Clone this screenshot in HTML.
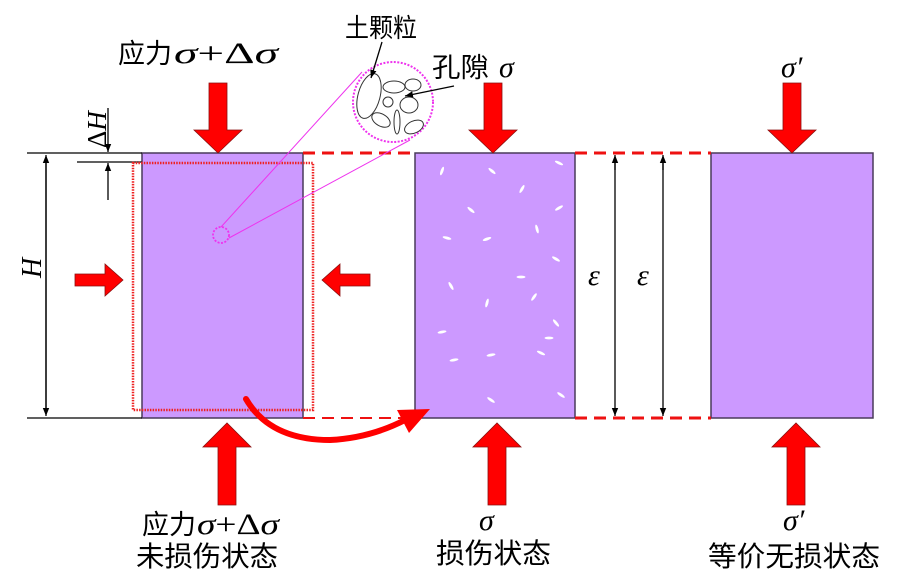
<!DOCTYPE html>
<html><head><meta charset="utf-8"><style>
html,body{margin:0;padding:0;background:#fff;}
svg{display:block;}
text{font-family:"Liberation Serif","Noto Serif CJK SC",serif;fill:#000;}
.cn{font-family:"Liberation Sans","Noto Sans CJK SC",sans-serif;}
</style></head><body>
<svg width="911" height="582" viewBox="0 0 911 582" xmlns="http://www.w3.org/2000/svg">
<defs>
<marker id="ah" viewBox="0 0 10 10" refX="10" refY="5" markerWidth="8" markerHeight="10" markerUnits="userSpaceOnUse" orient="auto"><path d="M0,1 L10,5 L0,9 Z" fill="#000"/></marker>
</defs>
<rect x="142" y="153" width="161" height="265" fill="#cc99ff" stroke="#4a3a5a" stroke-width="1.5"/>
<rect x="415" y="153" width="160" height="265" fill="#cc99ff" stroke="#4a3a5a" stroke-width="1.5"/>
<rect x="711" y="153" width="162" height="265" fill="#cc99ff" stroke="#4a3a5a" stroke-width="1.5"/>
<g fill="#fff">
<ellipse cx="442" cy="171" rx="4.5" ry="1.4" transform="rotate(-70 442 171)"/>
<ellipse cx="492" cy="171" rx="4.5" ry="1.4" transform="rotate(40 492 171)"/>
<ellipse cx="559" cy="163" rx="4.5" ry="1.4" transform="rotate(25 559 163)"/>
<ellipse cx="522" cy="189" rx="4.5" ry="1.4" transform="rotate(-60 522 189)"/>
<ellipse cx="471" cy="210" rx="4.5" ry="1.4" transform="rotate(40 471 210)"/>
<ellipse cx="559" cy="208" rx="4.5" ry="1.4" transform="rotate(-30 559 208)"/>
<ellipse cx="537" cy="229" rx="4.5" ry="1.4" transform="rotate(75 537 229)"/>
<ellipse cx="447" cy="238" rx="4.5" ry="1.4" transform="rotate(15 447 238)"/>
<ellipse cx="487" cy="239" rx="4.5" ry="1.4" transform="rotate(-20 487 239)"/>
<ellipse cx="556" cy="259" rx="4.5" ry="1.4" transform="rotate(30 556 259)"/>
<ellipse cx="521" cy="277" rx="4.5" ry="1.4"/>
<ellipse cx="451" cy="286" rx="4.5" ry="1.4" transform="rotate(60 451 286)"/>
<ellipse cx="534" cy="297" rx="4.5" ry="1.4" transform="rotate(-55 534 297)"/>
<ellipse cx="487" cy="303" rx="4.5" ry="1.4" transform="rotate(-75 487 303)"/>
<ellipse cx="556" cy="323" rx="4.5" ry="1.4" transform="rotate(50 556 323)"/>
<ellipse cx="442" cy="332" rx="4.5" ry="1.4" transform="rotate(-10 442 332)"/>
<ellipse cx="549" cy="338" rx="4.5" ry="1.4"/>
<ellipse cx="491" cy="355" rx="4.5" ry="1.4" transform="rotate(-10 491 355)"/>
<ellipse cx="454" cy="360" rx="4.5" ry="1.4" transform="rotate(-10 454 360)"/>
<ellipse cx="541" cy="353" rx="4.5" ry="1.4" transform="rotate(25 541 353)"/>
<ellipse cx="491" cy="400" rx="4.5" ry="1.4" transform="rotate(35 491 400)"/>
<ellipse cx="561" cy="395" rx="4.5" ry="1.4" transform="rotate(35 561 395)"/>
</g>
<g stroke="#000" stroke-width="1.3" fill="none">
<line x1="27" y1="153" x2="142" y2="153"/>
<line x1="27" y1="418" x2="142" y2="418"/>
<line x1="77" y1="162" x2="142" y2="162"/>
<line x1="46" y1="410" x2="46" y2="155" marker-end="url(#ah)"/>
<line x1="46" y1="160" x2="46" y2="416" marker-end="url(#ah)"/>
<line x1="108" y1="108" x2="108" y2="152" marker-end="url(#ah)"/>
<line x1="108" y1="200" x2="108" y2="163" marker-end="url(#ah)"/>
<line x1="615" y1="170" x2="615" y2="155" marker-end="url(#ah)"/>
<line x1="615" y1="160" x2="615" y2="416" marker-end="url(#ah)"/>
<line x1="663" y1="170" x2="663" y2="155" marker-end="url(#ah)"/>
<line x1="663" y1="160" x2="663" y2="416" marker-end="url(#ah)"/>
</g>
<g stroke="#ee1111" stroke-width="3" stroke-dasharray="12,7" fill="none">
<line x1="303" y1="153" x2="415" y2="153"/>
<line x1="575" y1="153" x2="711" y2="153"/>
<line x1="575" y1="418" x2="711" y2="418"/>
</g>
<line x1="303" y1="418" x2="415" y2="418" stroke="#ee1111" stroke-width="2" stroke-dasharray="12,7"/>
<rect x="133" y="163" width="180" height="247" fill="none" stroke="#ee2222" stroke-width="2.5" stroke-dasharray="1.5,1.2"/>
<g stroke="#ee33ee" fill="none">
<line x1="221" y1="227" x2="362" y2="72" stroke-width="1"/>
<line x1="229" y1="238" x2="410" y2="140" stroke-width="1"/>
<circle cx="221" cy="235" r="8" stroke-width="1.8" stroke-dasharray="2,1.5"/>
<circle cx="393" cy="102" r="40" stroke-width="2" stroke-dasharray="2,1.5" fill="#fff"/>
</g>
<g stroke="#333" stroke-width="1" fill="none">
<ellipse cx="369" cy="96" rx="11" ry="23" transform="rotate(15 369 96)"/>
<ellipse cx="394" cy="87" rx="11" ry="6"/>
<ellipse cx="413" cy="85" rx="8" ry="6"/>
<circle cx="388" cy="102" r="5"/>
<ellipse cx="409" cy="105" rx="9" ry="8"/>
<ellipse cx="381" cy="120" rx="10" ry="6" transform="rotate(30 381 120)"/>
<ellipse cx="397" cy="122" rx="3" ry="12"/>
<ellipse cx="414" cy="127" rx="10" ry="6" transform="rotate(-25 414 127)"/>
</g>
<line x1="382" y1="42" x2="371" y2="78" stroke="#000" stroke-width="1.3" marker-end="url(#ah)"/>
<line x1="454" y1="86" x2="405" y2="96" stroke="#000" stroke-width="1.3" marker-end="url(#ah)"/>
<g fill="#ff0000" stroke="#8a1010" stroke-width="0.8">
<path d="M209,83 H227 V130 H242 L218,153 L194,130 H209 Z"/>
<path d="M484,83 H502 V130 H517 L493,153 L469,130 H484 Z"/>
<path d="M783,83 H801 V130 H816 L792,153 L768,130 H783 Z"/>
<path d="M218,505 H236 V447 H251 L227,423 L203,447 H218 Z"/>
<path d="M488,505 H506 V447 H521 L497,423 L473,447 H488 Z"/>
<path d="M787,505 H805 V447 H820 L796,423 L772,447 H787 Z"/>
<path d="M75,274 H105 V264 L123,280 L105,296 V286 H75 Z"/>
<path d="M370,274 H340 V264 L322,280 L340,296 V286 H370 Z"/>
</g>
<path d="M246,399 Q270,440 330,440 Q370,438 405,420" stroke="#ff0000" stroke-width="6" fill="none" stroke-linecap="round"/>
<path d="M430,409 L397,410 L409,433 Z" fill="#ff0000"/>
<text x="118" y="63" font-size="27" class="cn" textLength="54" lengthAdjust="spacingAndGlyphs">应力</text>
<text x="174" y="63" font-size="30" textLength="104" lengthAdjust="spacingAndGlyphs"><tspan font-style="italic">σ</tspan>+Δ<tspan font-style="italic">σ</tspan></text>
<text x="345" y="37" font-size="26" class="cn" textLength="72" lengthAdjust="spacingAndGlyphs">土颗粒</text>
<text x="432" y="77" font-size="27" class="cn" textLength="57" lengthAdjust="spacingAndGlyphs">孔隙</text>
<text x="499" y="77" font-size="30" font-style="italic">σ</text>
<text x="781" y="77" font-size="30" font-style="italic">σ′</text>
<text x="0" y="0" font-size="28" font-style="italic" transform="translate(41,278) rotate(-90)">H</text>
<text x="0" y="0" font-size="27" transform="translate(106,148) rotate(-90)">Δ<tspan font-style="italic">H</tspan></text>
<text x="588" y="285" font-size="30" font-style="italic">ε</text>
<text x="637" y="285" font-size="30" font-style="italic">ε</text>
<text x="142" y="534" font-size="27" class="cn" textLength="54" lengthAdjust="spacingAndGlyphs">应力</text>
<text x="197" y="534" font-size="30" textLength="82" lengthAdjust="spacingAndGlyphs"><tspan font-style="italic">σ</tspan>+Δ<tspan font-style="italic">σ</tspan></text>
<text x="136" y="566" font-size="28" class="cn" textLength="142" lengthAdjust="spacingAndGlyphs">未损伤状态</text>
<text x="479" y="530" font-size="30" font-style="italic">σ</text>
<text x="436" y="563" font-size="28" class="cn" textLength="115" lengthAdjust="spacingAndGlyphs">损伤状态</text>
<text x="783" y="530" font-size="30" font-style="italic">σ′</text>
<text x="708" y="566" font-size="28" class="cn" textLength="172" lengthAdjust="spacingAndGlyphs">等价无损状态</text>
</svg>
</body></html>
